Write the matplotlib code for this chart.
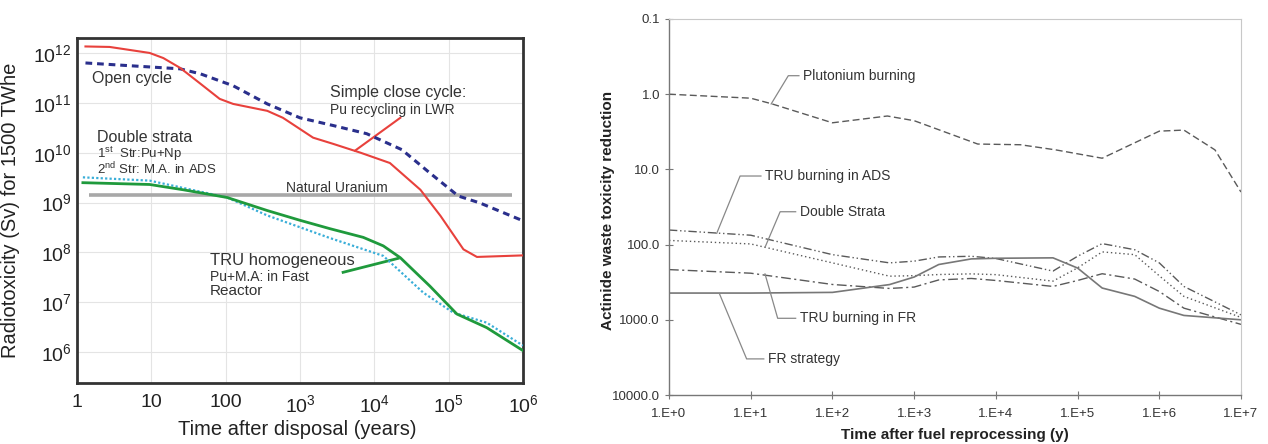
import matplotlib
matplotlib.use('Agg')
import matplotlib.pyplot as plt

plt.rcParams['font.family'] = ['Liberation Sans', 'DejaVu Sans']
plt.rcParams['mathtext.fontset'] = 'custom'
plt.rcParams['mathtext.rm'] = 'Liberation Sans'

# ---- left panel: radiotoxicity (Sv) for 1500 TWhe vs time after disposal
t_open = [1.3, 24.5, 46, 126, 363, 1000, 2800, 7900, 23400, 56000, 135000, 263000, 1e6]
open_cycle = [6.3e11, 4.8e11, 3.8e11, 2.2e11, 9.5e10, 5.0e10, 3.5e10, 2.4e10,
              1.15e10, 3.9e9, 1.35e9, 9.8e8, 4.3e8]

t_close = [1.3, 2.75, 9.5, 14.5, 24.5, 46, 83, 126, 363, 590, 1500, 2800, 6500,
           16200, 41700, 77600, 158000, 240000, 1e6]
close_cycle = [1.35e12, 1.32e12, 1.0e12, 7.9e11, 5.0e11, 2.4e11, 1.2e11, 9.5e10,
               6.9e10, 5.0e10, 2.0e10, 1.5e10, 1.0e10, 6.2e9, 1.8e9, 5.4e8,
               1.15e8, 8.1e7, 8.7e7]

t_tru = [1.2, 9.5, 27, 105, 363, 1000, 2500, 7100, 13200, 22400, 56000, 129000, 324000, 1e6]
tru_homog = [2.5e9, 2.3e9, 1.8e9, 1.26e9, 6.9e8, 4.4e8, 3.0e8, 2.0e8, 1.35e8,
             7.8e7, 2.1e7, 5.8e6, 3.1e6, 1.07e6]

t_ds = [1.2, 9.5, 105, 363, 2500, 13200, 45700, 115000, 324000, 1e6]
double_strata = [3.2e9, 2.75e9, 1.26e9, 5.5e8, 1.95e8, 8.5e7, 1.55e7, 6.2e6, 3.9e6, 1.35e6]

t_natu = [1.45, 7.1e5]
nat_u = [1.4e9, 1.4e9]

# ---- right panel: actinide waste toxicity reduction
t_pu = [1, 10, 18, 100, 470, 1000, 6000, 20000, 54000, 200000, 1e6, 2e6, 4.8e6, 1e7]
pu_burning = [1.0, 1.13, 1.34, 2.4, 1.95, 2.25, 4.6, 4.7, 5.5, 7.1, 3.1, 3.0, 5.5, 20]

t_r = [1, 10, 100, 500, 1000, 2000, 5000, 1e4, 5e4, 1e5, 2e5, 5e5, 1e6, 2e6, 1e7]
tru_ads = [64, 75, 136, 175, 166, 146, 143, 153, 225, 143, 97, 117, 175, 360, 860]
double_strata_r = [88, 98, 175, 263, 259, 250, 245, 251, 306, 204, 125, 136, 260, 488, 930]
tru_fr = [215, 240, 339, 383, 367, 295, 282, 300, 360, 300, 244, 287, 420, 700, 1150]
fr_strategy = [441, 441, 432, 340, 270, 184, 155, 152, 150, 205, 378, 488, 700, 875, 1000]

fig = plt.figure(figsize=(12.68, 4.44), dpi=100)

# ================= left =================
ax1 = fig.add_axes([77 / 1268, 1 - 383 / 444, 446 / 1268, 345 / 444])
ax1.set_xscale('log')
ax1.set_yscale('log')
ax1.set_xlim(1, 1e6)
ax1.set_ylim(10 ** 5.38, 10 ** 12.3)

ax1.plot(t_natu, nat_u, color='#a8a8a8', lw=2.6, solid_capstyle='butt', zorder=2)
ax1.plot(t_open, open_cycle, color='#2a2f8c', lw=2.2, ls=(0, (2.2, 1.6)), zorder=3)
ax1.plot(t_close, close_cycle, color='#e8413c', lw=1.5, zorder=3)
ax1.plot(t_ds, double_strata, color='#3aaed8', lw=1.6, ls=(0, (1, 1)), zorder=3)
ax1.plot(t_tru, tru_homog, color='#1f9a3c', lw=2.0, zorder=4)

xt = [1, 10, 100, 1e3, 1e4, 1e5, 1e6]
xl = ['1', '10', '100', r'$\mathdefault{10^3}$', r'$\mathdefault{10^4}$',
      r'$\mathdefault{10^5}$', r'$\mathdefault{10^6}$']
ax1.set_xticks(xt)
ax1.set_xticklabels(xl)
yt = [10.0 ** k for k in range(6, 13)]
ax1.set_yticks(yt)
ax1.set_yticklabels([r'$\mathdefault{10^{%d}}$' % k for k in range(6, 13)])
ax1.minorticks_off()
ax1.tick_params(length=0, labelsize=14, colors='#222222')
ax1.tick_params(axis='x', pad=8)
ax1.tick_params(axis='y', pad=4)
ax1.grid(True, color='#e4e4e4', lw=0.8)
ax1.set_axisbelow(True)
for s in ax1.spines.values():
    s.set_linewidth(2.0)
    s.set_color('#333333')

ax1.set_xlabel('Time after disposal (years)', fontsize=14.5, color='#222222')
ax1.xaxis.set_label_coords(0.493, -0.108)
ax1.set_ylabel('Radiotoxicity (Sv) for 1500 TWhe', fontsize=14.5, color='#222222')
ax1.yaxis.set_label_coords(-0.128, 0.5)

tc = '#333333'
ax1.text(1.6, 10 ** 11.48, 'Open cycle', fontsize=11.5, color=tc, va='center')
ax1.text(2550, 10 ** 11.2, 'Simple close cycle:', fontsize=11.5, color=tc, va='center')
ax1.text(2550, 10 ** 10.86, 'Pu recycling in LWR', fontsize=10, color=tc, va='center')
ax1.plot([10 ** 4.35, 10 ** 3.74], [10 ** 10.7, 10 ** 10.04], color='#e8413c', lw=1.5)
ax1.text(1.86, 10 ** 10.3, 'Double strata', fontsize=11.5, color=tc, va='center')
ax1.text(1.86, 10 ** 9.98, r'$\mathdefault{1^{st}}$  Str:Pu+Np', fontsize=9.5, color=tc, va='center')
ax1.text(1.86, 10 ** 9.68, r'$\mathdefault{2^{nd}}$ Str: M.A. in ADS', fontsize=9.5, color=tc, va='center')
ax1.text(3160, 10 ** 9.29, 'Natural Uranium', fontsize=10, color=tc, va='center', ha='center')
ax1.text(62, 10 ** 7.84, 'TRU homogeneous', fontsize=12, color=tc, va='center')
ax1.text(62, 10 ** 7.5, 'Pu+M.A: in Fast', fontsize=10, color=tc, va='center')
ax1.text(62, 10 ** 7.22, 'Reactor', fontsize=11, color=tc, va='center')
ax1.plot([10 ** 3.58, 10 ** 4.32], [10 ** 7.6, 10 ** 7.88], color='#1f9a3c', lw=2.0)

# ================= right =================
ax2 = fig.add_axes([669 / 1268, 1 - 395 / 444, 572 / 1268, 376 / 444])
ax2.set_xscale('log')
ax2.set_yscale('log')
ax2.set_xlim(1, 1e7)
ax2.set_ylim(10000, 0.1)

lc = '#5a5a5a'
ax2.plot(t_pu, pu_burning, color=lc, lw=1.0, ls=(0, (5, 2.5)))
ax2.plot(t_r, tru_ads, color=lc, lw=1.0, ls=(0, (6, 2, 1, 2, 1, 2)))
ax2.plot(t_r, double_strata_r, color=lc, lw=1.0, ls=(0, (1, 2)))
ax2.plot(t_r, tru_fr, color=lc, lw=1.0, ls=(0, (7, 2.5, 1.5, 2.5)))
ax2.plot(t_r, fr_strategy, color='#777777', lw=1.2)

ax2.set_xticks([10.0 ** k for k in range(0, 8)])
ax2.set_xticklabels(['1.E+%d' % k for k in range(0, 8)])
ax2.set_yticks([0.1, 1, 10, 100, 1000, 10000])
ax2.set_yticklabels(['0.1', '1.0', '10.0', '100.0', '1000.0', '10000.0'])
ax2.minorticks_off()
ax2.tick_params(direction='inout', length=6, width=0.8, color='#777777',
                labelsize=9.5, labelcolor='#333333')
ax2.tick_params(axis='x', pad=6)
for side in ['left', 'bottom']:
    ax2.spines[side].set_color('#777777')
    ax2.spines[side].set_linewidth(1.0)
for side in ['top', 'right']:
    ax2.spines[side].set_color('#c8c8c8')
    ax2.spines[side].set_linewidth(0.8)

ax2.set_xlabel('Time after fuel reprocessing (y)', fontsize=11, fontweight='bold', color='#222222')
ax2.xaxis.set_label_coords(0.5, -0.088)
ax2.set_ylabel('Actinide waste toxicity reduction', fontsize=11, fontweight='bold', color='#222222')
ax2.yaxis.set_label_coords(-0.095, 0.49)

# labels with leader lines: (text x, text y, elbow x, leader end x, leader end y, label)
notes = [
    (10 ** 1.64, 10 ** -0.246, 10 ** 1.46, 10 ** 1.25, 10 ** 0.13, 'Plutonium burning'),
    (10 ** 1.175, 10 ** 1.088, 10 ** 0.87, 10 ** 0.584, 10 ** 1.85, 'TRU burning in ADS'),
    (10 ** 1.6, 10 ** 1.563, 10 ** 1.36, 10 ** 1.175, 10 ** 2.036, 'Double Strata'),
    (10 ** 1.6, 10 ** 2.98, 10 ** 1.33, 10 ** 1.175, 10 ** 2.39, 'TRU burning in FR'),
    (10 ** 1.21, 10 ** 3.52, 10 ** 0.95, 10 ** 0.62, 10 ** 2.66, 'FR strategy'),
]
for tx, ty, ex, lx, ly, lab in notes:
    gap = tx / 10 ** 0.05
    ax2.plot([lx, ex, gap], [ly, ty, ty], color='#888888', lw=0.9)
    ax2.text(tx, ty, lab, fontsize=10, color='#333333', va='center')

fig.savefig('out.png', dpi=100)
